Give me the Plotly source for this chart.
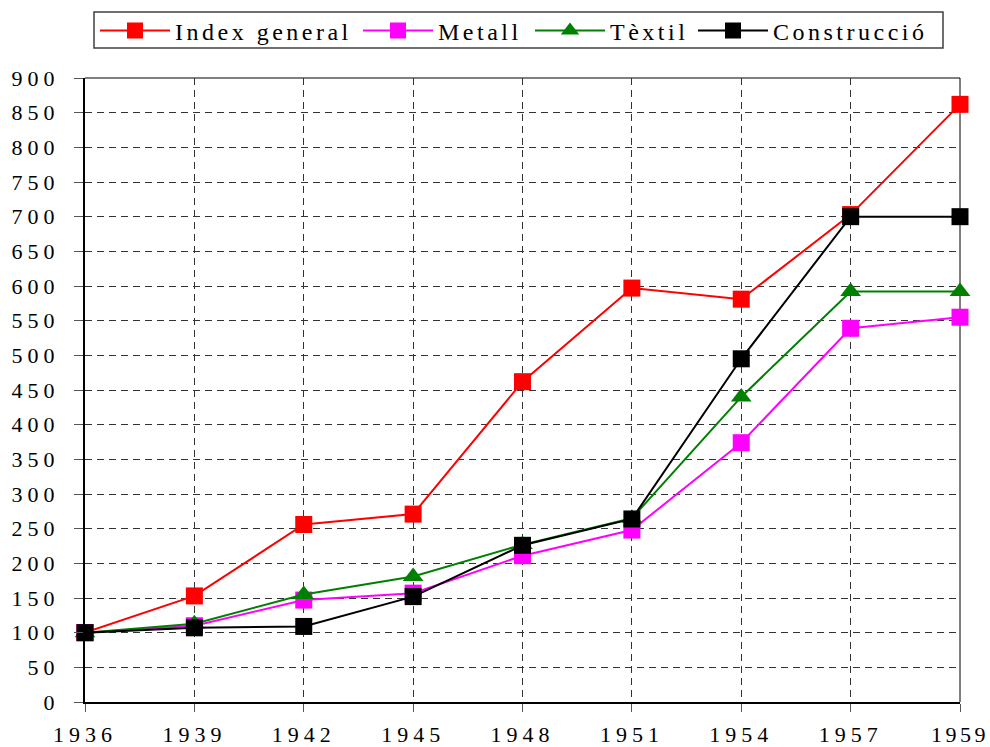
import plotly.graph_objects as go

years = ["1936", "1939", "1942", "1945", "1948", "1951", "1954", "1957", "1959"]
index_general = [100, 153, 256, 271, 462, 597, 581, 703, 862]
metall = [100, 110, 147, 157, 211, 248, 374, 539, 555]
textil = [100, 113, 155, 181, 227, 265, 440, 592, 592]
construccio = [100, 107, 109, 152, 226, 264, 495, 700, 700]

y_ticks = list(range(0, 901, 50))

font_family = "Liberation Serif, Times New Roman, serif"


def spaced(s, ls):
    return f'<span style="letter-spacing:{ls}px">{s}</span>'


fig = go.Figure()
series = [
    ("Index general", index_general, "#FF0000", "square", "legend"),
    ("Metall", metall, "#FF00FF", "square", "legend2"),
    ("Tèxtil", textil, "#008000", "triangle-up", "legend3"),
    ("Construcció", construccio, "#000000", "square", "legend4"),
]
for name, vals, color, sym, leg in series:
    fig.add_trace(go.Scatter(
        x=years, y=vals, name=spaced(name, 3.5), mode="lines+markers",
        line=dict(color=color, width=2),
        marker=dict(symbol=sym, size=17 if sym == "square" else 18, color=color,
                    line=dict(width=0)),
        cliponaxis=False, legend=leg,
    ))

# figure fills the whole window (body margin removed by post_script)
W, H = 990, 747
# plot area in window px: x 85..960, y 78..702
L, T = 85, 78
R = W - 960
B = H - 702
pw, ph = W - L - R, H - T - B


def px_x(x):
    return (x - L) / pw


def px_y(y):
    return 1 + (T - y) / ph


ITEMW = 70
leg_common = dict(bgcolor="rgba(0,0,0,0)", borderwidth=0, xanchor="left",
                  yanchor="middle", y=px_y(31), itemwidth=ITEMW,
                  font=dict(family=font_family, size=24, color="black"))
text_starts = [177, 440, 612, 775]
legends = {}
for key, ts in zip(["legend", "legend2", "legend3", "legend4"], text_starts):
    legends[key] = dict(leg_common, x=px_x(ts - 42 - (ITEMW - 30)))

x_ticktext = [spaced(y, 5) for y in years]
x_ticktext[-1] = spaced(years[-1], 3.5)

fig.update_layout(
    width=W, height=H,
    margin=dict(l=L, r=R, t=T, b=B, autoexpand=False),
    paper_bgcolor="white", plot_bgcolor="white",
    font=dict(family=font_family, size=22, color="black"),
    showlegend=True,
    **legends,
    xaxis=dict(
        type="category", categoryorder="array", categoryarray=years,
        range=[0, len(years) - 1],
        tickvals=years, ticktext=x_ticktext,
        showgrid=True, gridcolor="#333333", griddash="7px,5px", gridwidth=1,
        showline=True, linecolor="black", linewidth=2,
        ticks="outside", ticklen=8, tickcolor="#555555",
        tickfont=dict(family=font_family, size=22),
        ticklabelstandoff=4,
        zeroline=False, automargin=False,
    ),
    yaxis=dict(
        range=[0, 900], tickvals=y_ticks, ticktext=[spaced(str(v), 5) for v in y_ticks],
        showgrid=True, gridcolor="#333333", griddash="7px,5px", gridwidth=1,
        showline=True, linecolor="black", linewidth=2,
        ticks="outside", ticklen=9, tickcolor="#555555",
        tickfont=dict(family=font_family, size=22),
        ticklabelstandoff=10,
        zeroline=False, automargin=False,
    ),
)

fig.add_shape(type="line", xref="paper", yref="paper", x0=0, x1=1, y0=1, y1=1,
              line=dict(color="black", width=1), layer="below")
fig.add_shape(type="line", xref="paper", yref="paper", x0=1, x1=1, y0=0, y1=1,
              line=dict(color="black", width=1), layer="below")
# legend frame
fig.add_shape(type="rect", xref="paper", yref="paper",
              x0=px_x(94), x1=px_x(943), y0=px_y(48), y1=px_y(12),
              line=dict(color="#404040", width=1.5), fillcolor="rgba(0,0,0,0)")

fig.write_html(
    "out.html",
    config={"displayModeBar": False},
    post_script="document.body.style.margin='0';document.body.style.overflow='hidden';",
)
